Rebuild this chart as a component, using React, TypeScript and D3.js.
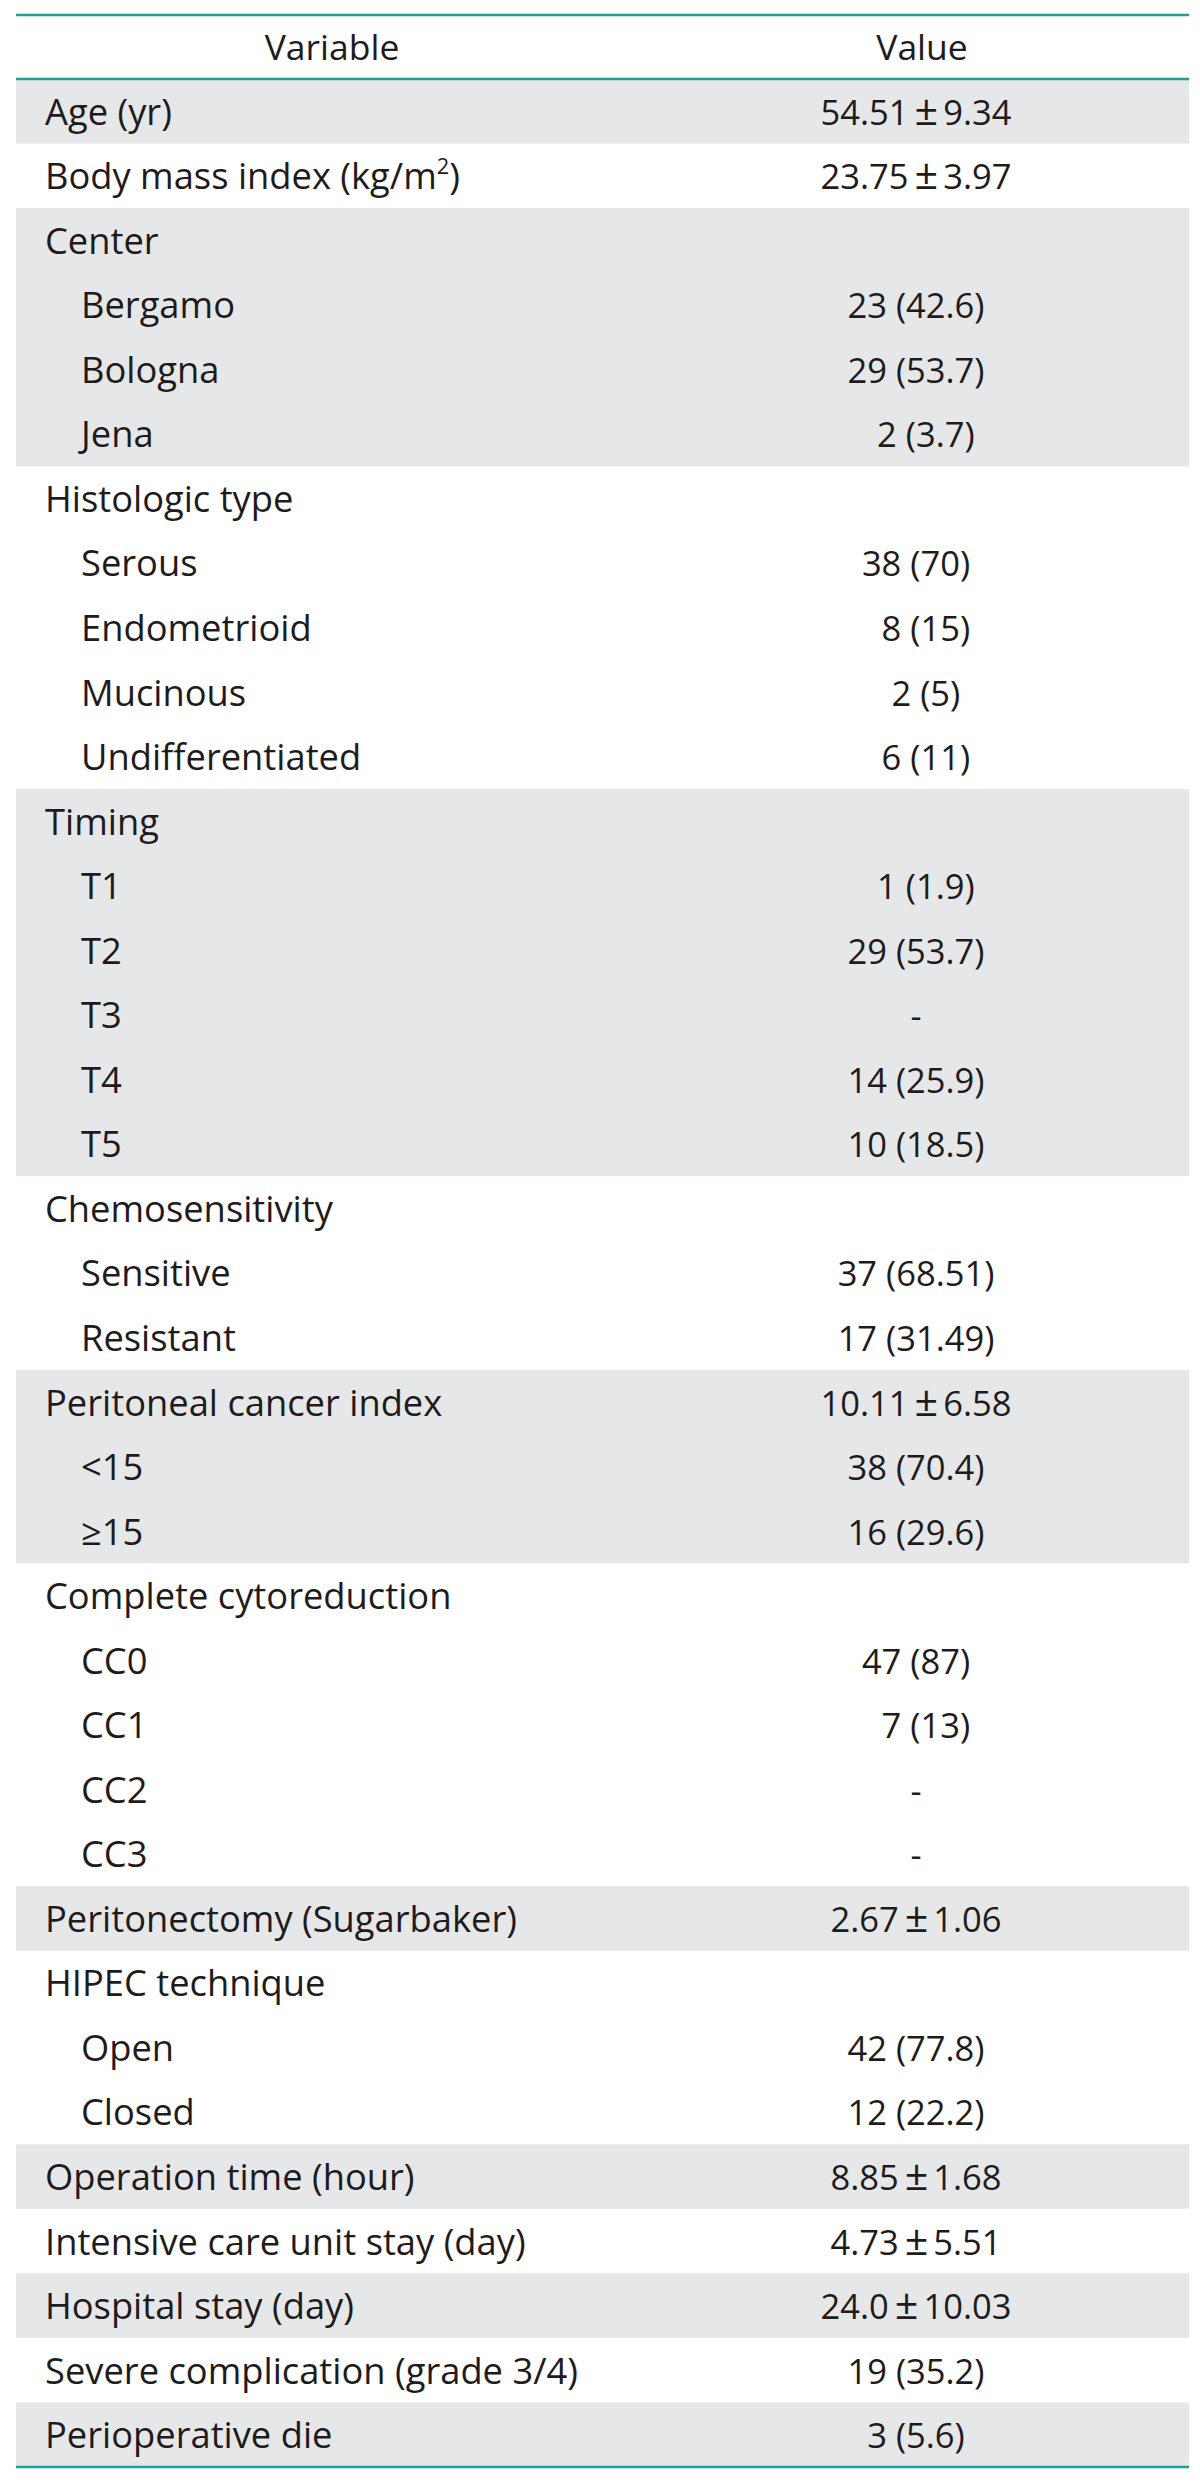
import React from "react";
import * as d3 from "d3";

const headers = ["Variable", "Value"];

const variables = [
  "Age (yr)",
  "Body mass index (kg/m^2)",
  "Center",
  "Bergamo",
  "Bologna",
  "Jena",
  "Histologic type",
  "Serous",
  "Endometrioid",
  "Mucinous",
  "Undifferentiated",
  "Timing",
  "T1",
  "T2",
  "T3",
  "T4",
  "T5",
  "Chemosensitivity",
  "Sensitive",
  "Resistant",
  "Peritoneal cancer index",
  "<15",
  "≥15",
  "Complete cytoreduction",
  "CC0",
  "CC1",
  "CC2",
  "CC3",
  "Peritonectomy (Sugarbaker)",
  "HIPEC technique",
  "Open",
  "Closed",
  "Operation time (hour)",
  "Intensive care unit stay (day)",
  "Hospital stay (day)",
  "Severe complication (grade 3/4)",
  "Perioperative die",
];

const values = [
  "54.51±9.34",
  "23.75±3.97",
  "",
  "23 (42.6)",
  "29 (53.7)",
  "\u20072 (3.7)",
  "",
  "38 (70)",
  "\u20078 (15)",
  "\u20072 (5)",
  "\u20076 (11)",
  "",
  "\u20071 (1.9)",
  "29 (53.7)",
  "-",
  "14 (25.9)",
  "10 (18.5)",
  "",
  "37 (68.51)",
  "17 (31.49)",
  "10.11±6.58",
  "38 (70.4)",
  "16 (29.6)",
  "",
  "47 (87)",
  "\u20077 (13)",
  "-",
  "-",
  "2.67±1.06",
  "",
  "42 (77.8)",
  "12 (22.2)",
  "8.85±1.68",
  "4.73±5.51",
  "24.0±10.03",
  "19 (35.2)",
  "3 (5.6)",
];

const indentLevels = [
  0, 0, 0, 1, 1, 1, 0, 1, 1, 1, 1, 0, 1, 1, 1, 1, 1, 0, 1, 1, 0, 1, 1, 0, 1,
  1, 1, 1, 0, 0, 1, 1, 0, 0, 0, 0, 0,
];

const groupIds = [
  0, 1, 2, 2, 2, 2, 3, 3, 3, 3, 3, 4, 4, 4, 4, 4, 4, 5, 5, 5, 6, 6, 6, 7, 7,
  7, 7, 7, 8, 9, 9, 9, 10, 11, 12, 13, 14,
];

const W = 1200;
const H = 2485;
const LEFT = 16;
const RIGHT = 1189;
const TOP_LINE = 15;
const HEAD_BOTTOM = 79;
const BOTTOM = 2467;
const FONT = "'Open Sans', 'Noto Sans', sans-serif";
const FS_LABEL = 36.3;
const FS_HEAD = 35.5;
const FS_VAL = 34.5;
const TEAL = "#1fa097";
const GRAY = "#e6e7e8";
const TEXT = "#1f1b1c";

function Label({ text, x, y }: { text: string; x: number; y: number }) {
  const parts = text.split("^");
  if (parts.length === 1) {
    return (
      <text x={x} y={y} fontFamily={FONT} fontSize={FS_LABEL} fill={TEXT}>
        {text}
      </text>
    );
  }
  const sup = parts[1].charAt(0);
  const rest = parts[1].slice(1);
  return (
    <text x={x} y={y} fontFamily={FONT} fontSize={FS_LABEL} fill={TEXT}>
      {parts[0]}
      <tspan fontSize={FS_LABEL * 0.6} dy={-FS_LABEL * 0.42}>
        {sup}
      </tspan>
      <tspan dy={FS_LABEL * 0.42}>{rest}</tspan>
    </text>
  );
}

function Value({ text, x, y }: { text: string; x: number; y: number }) {
  const pm = text.split("±");
  return (
    <text
      x={x}
      y={y}
      textAnchor="middle"
      fontFamily={FONT}
      fontSize={FS_VAL}
      fill={TEXT}
    >
      {pm.length === 1 ? (
        text
      ) : (
        <>
          {pm[0]}
          <tspan dx={6} fontSize={FS_VAL * 1.2}>
            ±
          </tspan>
          <tspan dx={5}>{pm[1]}</tspan>
        </>
      )}
    </text>
  );
}

export default function App() {
  const idx = variables.map((_, i) => i);
  const y = d3
    .scaleBand<number>()
    .domain(idx)
    .range([HEAD_BOTTOM, BOTTOM])
    .paddingInner(0)
    .paddingOuter(0);
  const x = d3
    .scaleOrdinal<string, number>()
    .domain(["left", "indent", "valueCenter", "varHeader", "valueHeader"])
    .range([45, 81, 916, 332, 922]);

  const groups = d3.groups(idx, (i) => groupIds[i]);
  const shaded = groups.filter((g) => (g[0] as number) % 2 === 0);

  const bw = y.bandwidth();
  const headY = (TOP_LINE + HEAD_BOTTOM) / 2 + FS_HEAD * 0.37;

  return (
    <svg
      width={W}
      height={H}
      style={{ position: "absolute", left: 0, top: 0, display: "block", background: "#fff" }}
    >
      <rect x={0} y={0} width={W} height={H} fill="#fff" />
      {shaded.map(([gid, rows]) => {
        const y0 = y(rows[0]) as number;
        const y1 = (y(rows[rows.length - 1]) as number) + bw;
        return (
          <rect
            key={gid}
            x={LEFT}
            y={y0}
            width={RIGHT - LEFT}
            height={y1 - y0}
            fill={GRAY}
          />
        );
      })}
      <text
        x={x("varHeader")}
        y={headY}
        textAnchor="middle"
        fontFamily={FONT}
        fontSize={FS_HEAD}
        fill={TEXT}
      >
        {headers[0]}
      </text>
      <text
        x={x("valueHeader")}
        y={headY}
        textAnchor="middle"
        fontFamily={FONT}
        fontSize={FS_HEAD}
        fill={TEXT}
      >
        {headers[1]}
      </text>
      {idx.map((i) => {
        const cy = (y(i) as number) + bw / 2 + FS_LABEL * 0.37;
        return (
          <g key={i}>
            <Label
              text={variables[i]}
              x={indentLevels[i] ? x("indent") : x("left")}
              y={cy}
            />
            {values[i] && <Value text={values[i]} x={x("valueCenter")} y={cy} />}
          </g>
        );
      })}
      {[TOP_LINE, HEAD_BOTTOM, BOTTOM].map((ly, k) => (
        <line
          key={k}
          x1={LEFT}
          x2={RIGHT}
          y1={ly}
          y2={ly}
          stroke={TEAL}
          strokeWidth={2.5}
        />
      ))}
    </svg>
  );
}
